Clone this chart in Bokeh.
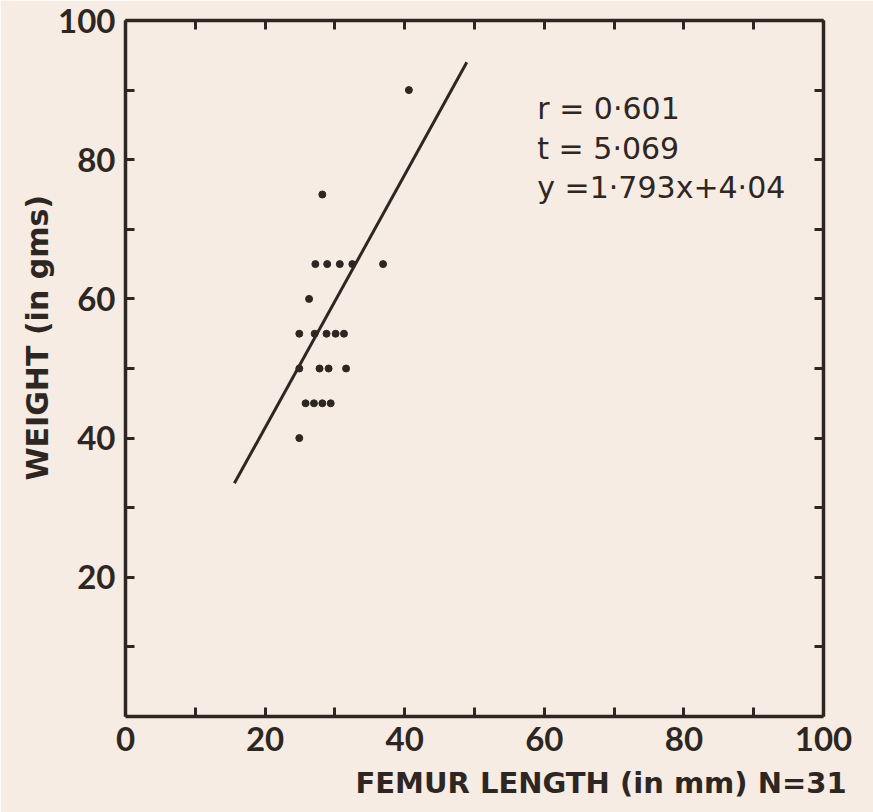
from bokeh.plotting import figure
from bokeh.models import Range1d, LinearAxis, FixedTicker, Label, Title
from bokeh.embed import file_html
from bokeh.resources import INLINE

# data
femur_length = [40.6, 28.2, 27.2, 28.9, 30.7, 32.5, 36.9, 26.3,
                24.9, 27.1, 28.8, 30.1, 31.3,
                24.9, 27.8, 29.1, 31.6,
                25.8, 27.0, 28.2, 29.4, 24.9]
weight = [90, 75, 65, 65, 65, 65, 65, 60,
          55, 55, 55, 55, 55,
          50, 50, 50, 50,
          45, 45, 45, 45, 40]
fit_x = [15.6, 48.9]
fit_y = [33.5, 94.0]
x_major_ticks = [0, 20, 40, 60, 80, 100]
y_major_ticks = [20, 40, 60, 80, 100]
minor_ticks = [10, 30, 50, 70, 90]
stats = ["r = 0·601", "t = 5·069", "y =1·793x+4·04"]
stats_y = [87.4, 81.6, 76.0]

INK = "#2e2622"
BG = "#f6ece3"
FONT = "Lato"
LABEL_FONT = "DejaVu Sans"

p = figure(width=873, height=812, output_backend="svg", toolbar_location=None,
           x_range=Range1d(0, 100), y_range=Range1d(0, 100),
           x_axis_type=None, y_axis_type=None,
           min_border_left=125, min_border_right=50,
           min_border_top=20, min_border_bottom=96)
p.background_fill_color = BG
p.border_fill_color = BG
p.outline_line_color = None
p.xgrid.visible = False
p.ygrid.visible = False

def make_axis(ticks, show_labels):
    ax = LinearAxis(ticker=FixedTicker(ticks=ticks, minor_ticks=minor_ticks))
    ax.axis_line_color = INK
    ax.axis_line_width = 3.5
    ax.major_tick_line_color = INK
    ax.major_tick_line_width = 3
    ax.minor_tick_line_color = INK
    ax.minor_tick_line_width = 3
    ax.major_tick_in = 9
    ax.major_tick_out = 0
    ax.minor_tick_in = 9
    ax.minor_tick_out = 0
    if show_labels:
        ax.major_label_text_font = FONT
        ax.major_label_text_font_style = "bold"
        ax.major_label_text_font_size = "33px"
        ax.major_label_text_color = INK
        ax.major_label_standoff = 10
    else:
        ax.major_label_text_font_size = "0px"
        ax.major_label_text_alpha = 0
    return ax

p.add_layout(make_axis(x_major_ticks, True), "below")
p.add_layout(make_axis(y_major_ticks, True), "left")
p.add_layout(make_axis(x_major_ticks, False), "above")
p.add_layout(make_axis(y_major_ticks, False), "right")

p.line(fit_x, fit_y, line_color=INK, line_width=3)
p.scatter(femur_length, weight, size=7, color=INK)

for txt, yy in zip(stats, stats_y):
    p.add_layout(Label(x=59, y=yy, text=txt, text_font=LABEL_FONT, text_font_size="30px",
                       text_color=INK, text_baseline="alphabetic"))

p.add_layout(Title(text="FEMUR LENGTH (in mm) N=31", align="left", offset=230,
                   text_font=LABEL_FONT, text_font_style="bold", text_font_size="29px",
                   text_color=INK, standoff=20), "below")
p.add_layout(Title(text="WEIGHT (in gms)", align="left", offset=236,
                   text_font=LABEL_FONT, text_font_style="bold", text_font_size="30px",
                   text_color=INK, standoff=2), "left")

open("out.html", "w").write(file_html(p, INLINE))
